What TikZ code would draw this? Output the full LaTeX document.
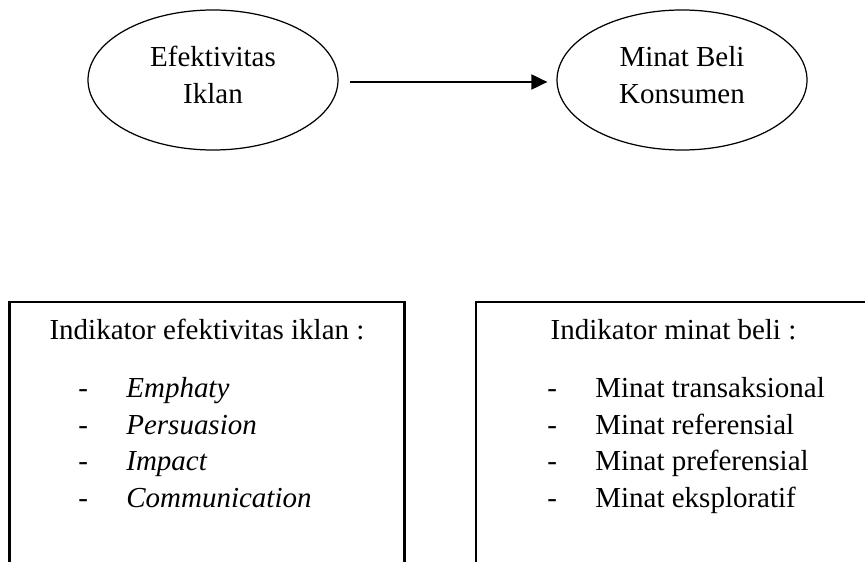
\documentclass[tikz,border=0pt]{standalone}
\usepackage{fontspec}
\setmainfont{Liberation Serif}
\usetikzlibrary{shapes.geometric, arrows.meta, positioning, calc}

\begin{document}
\begin{tikzpicture}[>={Triangle[length=0.32cm, width=0.3cm]},
    var/.style={ellipse, draw, line width=0.7pt, minimum width=5cm, minimum height=2.8cm, inner sep=0pt},
    vartext/.style={align=center, font=\fontsize{16.5}{20.8}\selectfont, inner sep=0pt},
    frame/.style={black, line width=1.2pt},
    title/.style={anchor=base, font=\fontsize{16.5}{20.8}\selectfont, inner sep=0pt},
    entry/.style={anchor=base west, font=\fontsize{16.5}{20.8}\selectfont, inner sep=0pt}]
      \useasboundingbox (0,0) rectangle (17.3,-11.24);

      % VARIABLES
      \node[var] (efek) at (4.26,-1.6) {};
      \node[vartext] (efektxt) at ([yshift=0.1cm]efek.center) {Efektivitas\\Iklan};

      \node[var] (minat) at (13.64,-1.6) {};
      \node[vartext] (minattxt) at ([yshift=0.1cm]minat.center) {Minat Beli\\Konsumen};

      \draw[->, line width=1.1pt] ([shift={(0.22,-0.04)}]efek.east) -- ([shift={(-0.18,-0.04)}]minat.west);

      % Indikator efektivitas iklan
      \draw[frame] (0.19,-11.24) -- (0.19,-6.04) -- (8.09,-6.04) -- (8.09,-11.24);
      \node[title] (efekind) at (4.14,-6.8) {Indikator efektivitas iklan :};
      \node[entry] (emphaty) at (1.56,-7.95) {\makebox[0.96cm][l]{-}\textit{Emphaty}};
      \node[entry] (persuasion) at (1.56,-8.68) {\makebox[0.96cm][l]{-}\textit{Persuasion}};
      \node[entry] (impact) at (1.56,-9.41) {\makebox[0.96cm][l]{-}\textit{Impact}};
      \node[entry] (communication) at (1.56,-10.14) {\makebox[0.96cm][l]{-}\textit{Communication}};

      % Indikator minat beli
      \draw[frame] (9.52,-11.24) -- (9.52,-6.04) -- (17.3,-6.04);
      \node[title] (minatind) at (13.47,-6.8) {Indikator minat beli :};
      \node[entry] (transaksional) at (10.94,-7.95) {\makebox[0.96cm][l]{-}Minat transaksional};
      \node[entry] (referensial) at (10.94,-8.68) {\makebox[0.96cm][l]{-}Minat referensial};
      \node[entry] (preferensial) at (10.94,-9.41) {\makebox[0.96cm][l]{-}Minat preferensial};
      \node[entry] (eksploratif) at (10.94,-10.14) {\makebox[0.96cm][l]{-}Minat eksploratif};
    \end{tikzpicture}
\end{document}
